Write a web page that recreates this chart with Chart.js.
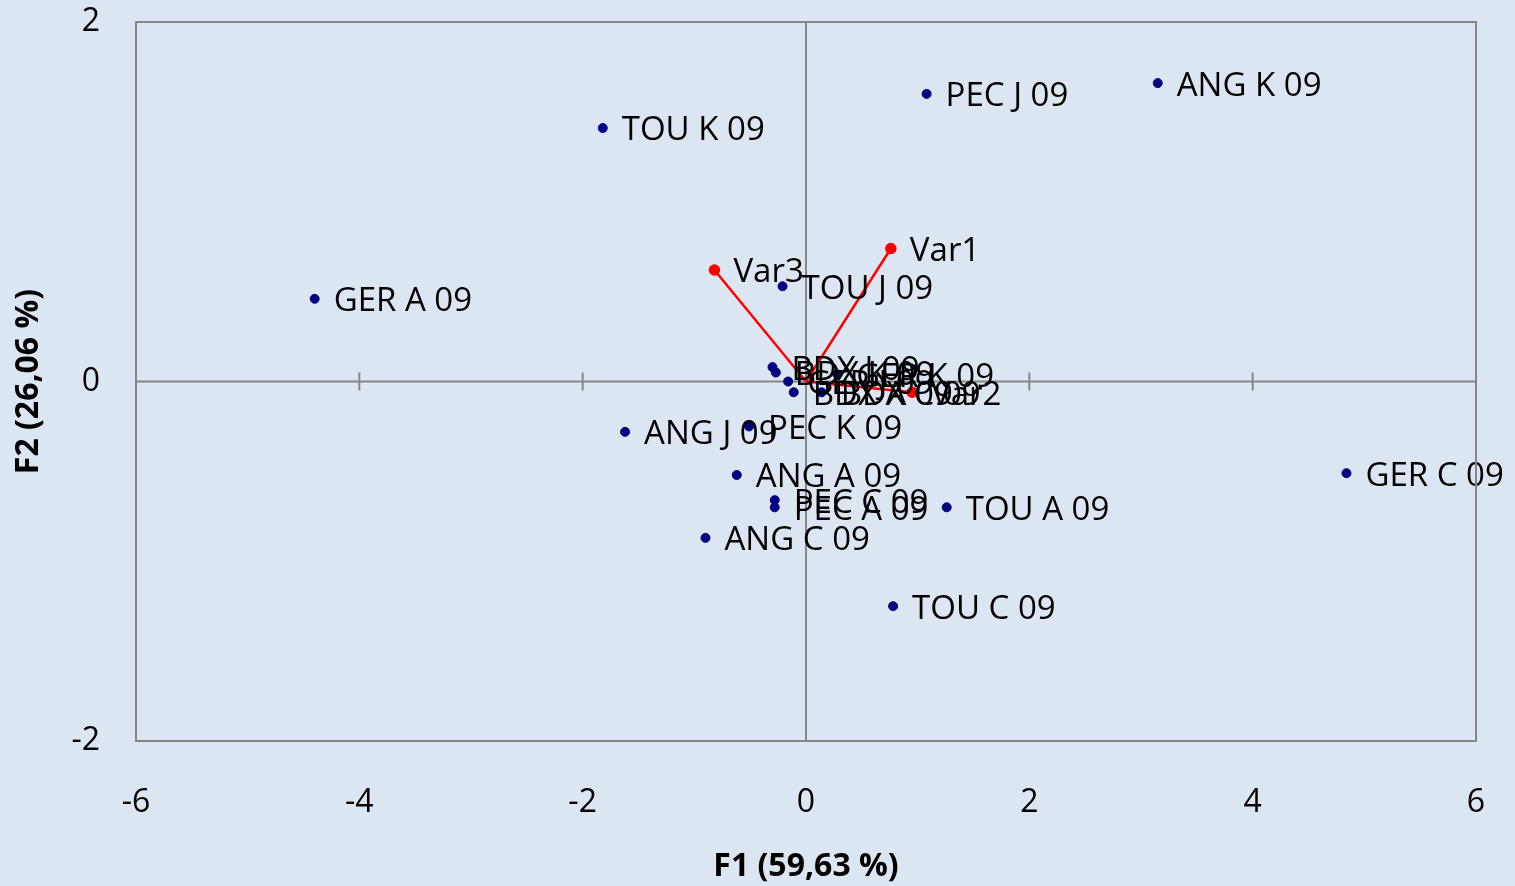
<!DOCTYPE html>
<html>
<head>
<meta charset="utf-8">
<script src="https://cdn.jsdelivr.net/npm/chart.js@4.4.0/dist/chart.umd.min.js"></script>
<style>
  html, body { margin: 0; padding: 0; background: #dce6f2; }
  #wrap { width: 1515px; height: 886px; }
</style>
</head>
<body>
<div id="wrap"><canvas id="biplot"></canvas></div>
<script>
// observations (F1, F2)
var obsLabels = ['TOU K 09', 'ANG K 09', 'PEC J 09', 'GER A 09', 'TOU J 09',
  'BDX J 09', 'BDX K 09', 'GER J 09', 'BDX A 09', 'BDX C 09', 'GER K 09',
  'ANG J 09', 'PEC K 09', 'ANG A 09', 'PEC C 09', 'PEC A 09', 'TOU A 09',
  'ANG C 09', 'TOU C 09', 'GER C 09'];
var obsF1 = [-1.82, 3.15, 1.08, -4.40, -0.21,
  -0.30, -0.27, -0.16, -0.11, 0.14, 0.28,
  -1.62, -0.51, -0.62, -0.28, -0.28, 1.26,
  -0.90, 0.78, 4.84];
var obsF2 = [1.41, 1.66, 1.60, 0.46, 0.53,
  0.08, 0.05, 0.00, -0.06, -0.06, 0.04,
  -0.28, -0.25, -0.52, -0.66, -0.70, -0.70,
  -0.87, -1.25, -0.51];

// variables
var varLabels = ['Var1', 'Var2', 'Var3'];
var varF1 = [0.76, 0.95, -0.82];
var varF2 = [0.74, -0.06, 0.62];

var xTicks = [-6, -4, -2, 0, 2, 4, 6];
var yTicks = [-2, 0, 2];

var labelFont = '33px "Open Sans"';
var gridGrey = '#868686';

var datasets = [{
  label: 'Observations',
  data: obsF1.map(function (v, i) { return { x: v, y: obsF2[i], name: obsLabels[i] }; }),
  backgroundColor: '#000080',
  borderColor: '#000080',
  pointRadius: 4.5,
  pointHoverRadius: 4.5
}];
varLabels.forEach(function (n, i) {
  datasets.push({
    label: n,
    data: [{ x: 0, y: 0 }, { x: varF1[i], y: varF2[i], name: n }],
    showLine: true,
    borderColor: '#ff0000',
    backgroundColor: '#ff0000',
    borderWidth: 2.5,
    pointRadius: [0, 4.5],
    pointHoverRadius: [0, 4.5]
  });
});

// zero lines with crossing tick marks
var crossAxes = {
  id: 'crossAxes',
  beforeDatasetsDraw: function (chart) {
    var c = chart.ctx, a = chart.chartArea;
    var xs = chart.scales.x, ys = chart.scales.y;
    var x0 = xs.getPixelForValue(0), y0 = ys.getPixelForValue(0);
    c.save();
    c.strokeStyle = gridGrey;
    c.lineWidth = 2;
    c.beginPath();
    c.moveTo(a.left, y0); c.lineTo(a.right, y0);
    c.moveTo(x0, a.top); c.lineTo(x0, a.bottom);
    xTicks.forEach(function (t) {
      var px = xs.getPixelForValue(t);
      c.moveTo(px, y0 - 9); c.lineTo(px, y0 + 9);
    });
    c.stroke();
    c.restore();
  },
  afterDatasetsDraw: function (chart) {
    var c = chart.ctx, a = chart.chartArea;
    c.save();
    c.font = labelFont;
    c.fillStyle = '#000000';
    c.textAlign = 'left';
    c.textBaseline = 'middle';
    chart.data.datasets.forEach(function (ds, di) {
      var meta = chart.getDatasetMeta(di);
      ds.data.forEach(function (d, i) {
        if (!d.name) return;
        var el = meta.data[i];
        c.fillText(d.name, el.x + 19, el.y + 3);
      });
    });
    c.strokeStyle = gridGrey;
    c.lineWidth = 2;
    c.strokeRect(a.left, a.top, a.right - a.left, a.bottom - a.top);
    c.restore();
  }
};

new Chart(document.getElementById('biplot'), {
  type: 'scatter',
  data: { datasets: datasets },
  options: {
    responsive: true,
    maintainAspectRatio: false,
    animation: false,
    layout: { padding: { top: 22, right: 39, left: 0, bottom: 0 } },
    plugins: { legend: { display: false }, tooltip: { enabled: false } },
    scales: {
      x: {
        type: 'linear', min: -6, max: 6,
        afterBuildTicks: function (s) { s.ticks = xTicks.map(function (v) { return { value: v }; }); },
        afterFit: function (s) { s.height = 145; s.paddingLeft = 0; s.paddingRight = 0; },
        grid: { display: false, drawTicks: false },
        border: { display: false },
        ticks: { color: '#000', font: { family: 'Open Sans', size: 32 }, padding: 43, maxRotation: 0 },
        title: { display: true, text: 'F1 (59,63 %)', color: '#000',
          font: { family: 'Open Sans', size: 32, weight: 'bold' }, padding: { bottom: 0, top: 0 } }
      },
      y: {
        type: 'linear', min: -2, max: 2,
        afterBuildTicks: function (s) { s.ticks = yTicks.map(function (v) { return { value: v }; }); },
        afterFit: function (s) { s.width = 136; s.paddingTop = 0; s.paddingBottom = 0; },
        grid: { display: false, drawTicks: false },
        border: { display: false },
        ticks: { color: '#000', font: { family: 'Open Sans', size: 32 }, padding: 36 },
        title: { display: true, text: 'F2 (26,06 %)', color: '#000',
          font: { family: 'Open Sans', size: 32, weight: 'bold' }, padding: { top: 10, bottom: 0 } }
      }
    }
  },
  plugins: [crossAxes]
});
</script>
</body>
</html>
